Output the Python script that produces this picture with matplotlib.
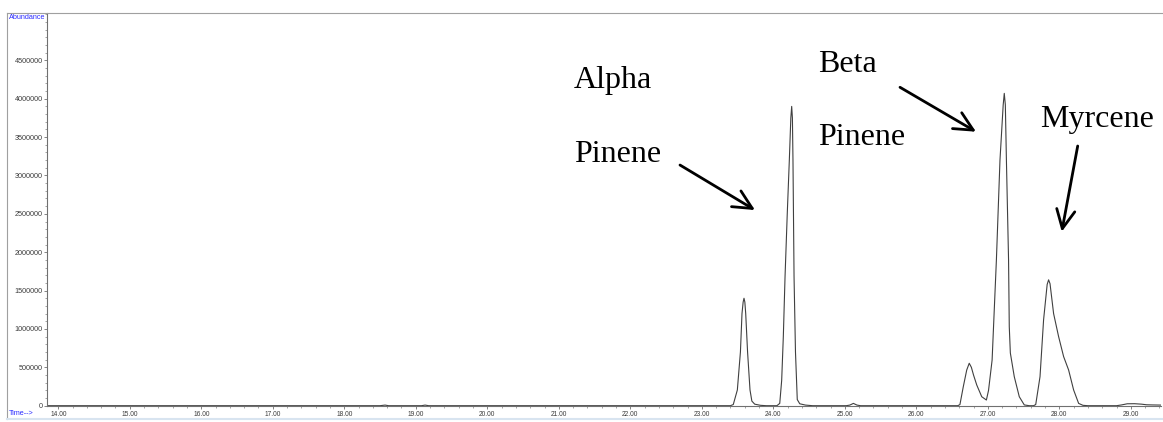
import matplotlib
matplotlib.use('Agg')
import matplotlib.pyplot as plt
from matplotlib.ticker import MultipleLocator, FixedLocator, FormatStrFormatter, FuncFormatter
from matplotlib.lines import Line2D

# chromatogram trace (time in min, abundance)
times = [13.84, 18.50, 18.57, 18.62, 19.08, 19.13, 19.18,
         23.40, 23.44, 23.497, 23.54, 23.562, 23.578, 23.59, 23.602, 23.614, 23.64, 23.674, 23.70,
         23.74, 23.82, 23.90,
         24.05, 24.09, 24.117, 24.14, 24.164, 24.195, 24.224, 24.245, 24.257, 24.267, 24.275, 24.29,
         24.31, 24.335, 24.37, 24.45, 24.55,
         25.02, 25.07, 25.12, 25.17, 25.22,
         26.58, 26.61, 26.657, 26.705, 26.74, 26.77, 26.80, 26.845, 26.915, 26.98, 27.01, 27.06,
         27.12, 27.17, 27.215, 27.23, 27.245, 27.26, 27.29, 27.30, 27.315, 27.37, 27.44, 27.51, 27.58,
         27.64, 27.67, 27.73, 27.78, 27.83, 27.85, 27.87, 27.92, 27.99, 28.06, 28.13, 28.20, 28.27,
         28.33, 28.40,
         28.80, 28.87, 28.95, 29.05, 29.15, 29.22, 29.30, 29.42]
abundance = [0, 0, 8000, 0, 0, 8000, 0,
             0, 15000, 205000, 700000, 1200000, 1350000, 1400000, 1350000, 1200000, 700000, 205000, 60000,
             20000, 5000, 0,
             0, 30000, 330000, 900000, 1680000, 2500000, 3200000, 3750000, 3900000, 3750000, 3200000, 1680000,
             700000, 80000, 25000, 8000, 0,
             0, 8000, 30000, 8000, 0,
             0, 15000, 248000, 465000, 553000, 500000, 400000, 270000, 117000, 74000, 200000, 595000,
             1900000, 3200000, 3920000, 4070000, 3920000, 3200000, 1900000, 1030000, 687000, 378000, 117000,
             10000, 0,
             0, 15000, 378000, 1120000, 1580000, 1640000, 1590000, 1200000, 900000, 640000, 465000, 205000,
             30000, 5000, 0,
             0, 10000, 25000, 26000, 20000, 12000, 10000, 8000]

# peak labels: (text, x, baseline y) and arrows (tail, tip)
labels = [("Alpha", 21.21, 4135000), ("Pinene", 21.21, 3179000),
          ("Beta", 24.63, 4352000), ("Pinene", 24.63, 3397000),
          ("Myrcene", 27.73, 3635000)]
arrows = [((22.695, 3136000), (23.744, 2549000)),
          ((25.772, 4149000), (26.835, 3570000)),
          ((28.257, 3384000), (28.034, 2267000))]
y_ticks = [0, 500000, 1000000, 1500000, 2000000, 2500000, 3000000, 3500000, 4000000, 4500000]

fig = plt.figure(figsize=(11.63, 4.22), dpi=100)
W, H = 1163, 422
ax = fig.add_axes([46.7 / W, (H - 405.7) / H, (1161 - 46.7) / W, (405.7 - 12.7) / H])

ax.plot(times, abundance, color='#404040', lw=0.8)
ax.set_xlim(13.838, 29.422)
ax.set_ylim(0, 5121000)

for s in ['top', 'right']:
    ax.spines[s].set_visible(False)
for s in ['left', 'bottom']:
    ax.spines[s].set_color('#707070')
    ax.spines[s].set_linewidth(0.8)

ax.xaxis.set_major_locator(MultipleLocator(1.0))
ax.xaxis.set_minor_locator(MultipleLocator(0.2))
ax.xaxis.set_major_formatter(FormatStrFormatter('%.2f'))
ax.yaxis.set_major_locator(FixedLocator(y_ticks))
ax.yaxis.set_minor_locator(MultipleLocator(100000))
ax.yaxis.set_major_formatter(FuncFormatter(lambda v, p: '%d' % v))

ax.tick_params(axis='both', which='major', direction='out', length=2.5, width=0.6,
               color='#707070', labelcolor='#3c3c3c')
ax.tick_params(axis='both', which='minor', direction='out', length=1.5, width=0.5, color='#808080')
ax.tick_params(axis='y', pad=0.5)
ax.tick_params(axis='x', pad=1)
for t in ax.get_yticklabels():
    t.set_fontfamily('Liberation Sans')
    t.set_fontsize(5.2)
for t in ax.get_xticklabels():
    t.set_fontfamily('Liberation Sans')
    t.set_fontsize(4.8)

for txt, x, y in labels:
    ax.text(x, y, txt, family='Liberation Serif', fontsize=23, ha='left', va='baseline', color='black')
for tail, tip in arrows:
    ax.annotate('', xy=tip, xytext=tail,
                arrowprops=dict(arrowstyle='->,head_length=0.45,head_width=0.22', lw=2,
                                color='black', shrinkA=0, shrinkB=0, mutation_scale=30))

# window frame and blue axis captions
fig.add_artist(Line2D([7.3 / W, 1], [(H - 12.7) / H] * 2, color='#a0a0a0', lw=0.8))
fig.add_artist(Line2D([7.3 / W] * 2, [(H - 12.7) / H, (H - 419) / H], color='#a0a0a0', lw=0.8))
fig.add_artist(Line2D([7.3 / W, 1], [(H - 419) / H] * 2, color='#d8e4f0', lw=1.5))
fig.text(8.5 / W, (H - 17.3) / H, 'Abundance', family='Liberation Sans', fontsize=5.2,
         color='#2a2aff', ha='left', va='center')
fig.text(8.5 / W, (H - 413.5) / H, 'Time-->', family='Liberation Sans', fontsize=5.2,
         color='#2a2aff', ha='left', va='center')

plt.savefig('out.png', dpi=100)
